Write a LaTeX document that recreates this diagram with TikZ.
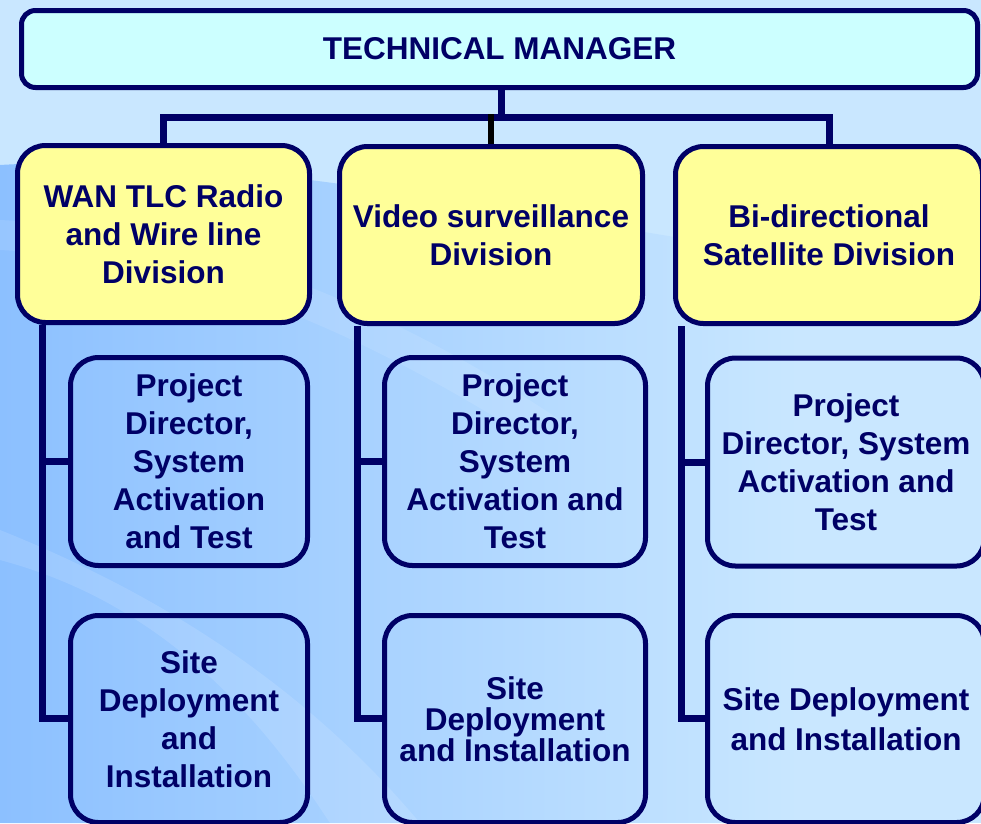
\documentclass[tikz,border=0pt]{standalone}
\usepackage{fontspec}
\setmainfont{Liberation Sans}
\definecolor{navy}{HTML}{000066}
\definecolor{topfill}{HTML}{CCFFFF}
\definecolor{yelfill}{HTML}{FFFF99}
\definecolor{bglight}{HTML}{C9E7FF}
\definecolor{bgdark}{HTML}{8CC0FF}
\tikzset{
  txt/.style={text=navy, font=\fontsize{31.5}{38}\selectfont\bfseries, align=center, inner sep=0pt},
  topbox/.style={txt, draw=navy, line width=5pt, fill=topfill, rounded corners=14pt},
  divbox/.style={txt, draw=navy, line width=5pt, fill=yelfill, rounded corners=28pt, minimum height=177pt},
  subbox/.style={txt, draw=navy, line width=5pt, rounded corners=28pt},
  conn/.style={draw=navy, line width=7pt},
  blackconn/.style={draw=black, line width=5.5pt}
}
\begin{document}
\begin{tikzpicture}[x=1pt,y=-1pt]
\useasboundingbox (0,0) rectangle (981,823);
% background
\fill[bglight] (0,0) rectangle (981,823);
\begin{scope}
  \clip (0,165) .. controls (250,150) and (500,215) .. (981,285) -- (981,823) -- (0,823) -- cycle;
  \shade[left color=bgdark, right color=bglight] (0,0) rectangle (800,823);
\end{scope}
\begin{scope}
  \clip (0,0) rectangle (981,823);
  \fill[white, opacity=0.12] (0,560) .. controls (150,600) and (250,700) .. (330,823) -- (420,823) .. controls (300,680) and (150,590) .. (0,530) -- cycle;
  \fill[white, opacity=0.10] (0,250) .. controls (200,260) and (350,330) .. (500,420) -- (560,420) .. controls (380,300) and (200,230) .. (0,220) -- cycle;

% nodes
\node[topbox, minimum width=956pt, minimum height=77pt] (tm) at (499.5,49) {TECHNICAL MANAGER};

\node[divbox, minimum width=292pt] (d1) at (163.5,234) {WAN TLC Radio\\and Wire line\\Division};
\node[divbox, minimum width=303pt] (d2) at (491,235) {Video surveillance\\Division};
\node[divbox, minimum width=307pt] (d3) at (829,235) {Bi-directional\\Satellite Division};

\node[subbox, minimum width=237pt, minimum height=208pt] (p1) at (189,461.5) {Project\\Director,\\System\\Activation\\and Test};
\node[subbox, minimum width=261pt, minimum height=208pt] (p2) at (515,461.5) {Project\\Director,\\System\\Activation and\\Test};
\node[subbox, minimum width=277pt, minimum height=208pt] (p3) at (846,462) {Project\\Director, System\\Activation and\\Test};

\node[subbox, minimum width=237pt, minimum height=207pt] (s1) at (189,719) {Site\\Deployment\\and\\Installation};
\node[subbox, minimum width=261pt, minimum height=207pt, font=\fontsize{31.5}{31}\selectfont\bfseries] (s2) at (515,719) {Site\\Deployment\\and Installation};
\node[subbox, minimum width=277pt, minimum height=207pt, font=\fontsize{31.5}{40}\selectfont\bfseries] (s3) at (846,719) {Site Deployment\\and Installation};

% spine coordinates
\coordinate (x1) at (42,0);
\coordinate (x2) at (357,0);
\coordinate (x3) at (681,0);
\coordinate (bar) at (0,117);

% connectors top
\draw[conn] (tm.south -| 501,0) -- (bar -| 501,0);
\draw[conn] (d1.north) -- (d1.north |- bar) -- (d3.north |- bar) -- (d3.north);
\draw[blackconn] (d2.north) -- ([yshift=3pt]d2.north |- bar);

% column spines
\draw[conn] (x1 |- d1.south) |- (p1.west);
\draw[conn] (x1 |- d1.south) |- ([yshift=1pt]s1.west);
\draw[conn] (x2 |- d2.south) |- (p2.west);
\draw[conn] (x2 |- d2.south) |- ([yshift=1pt]s2.west);
\draw[conn] (x3 |- d3.south) |- (p3.west);
\draw[conn] (x3 |- d3.south) |- ([yshift=1pt]s3.west);
\end{scope}
\end{tikzpicture}
\end{document}
